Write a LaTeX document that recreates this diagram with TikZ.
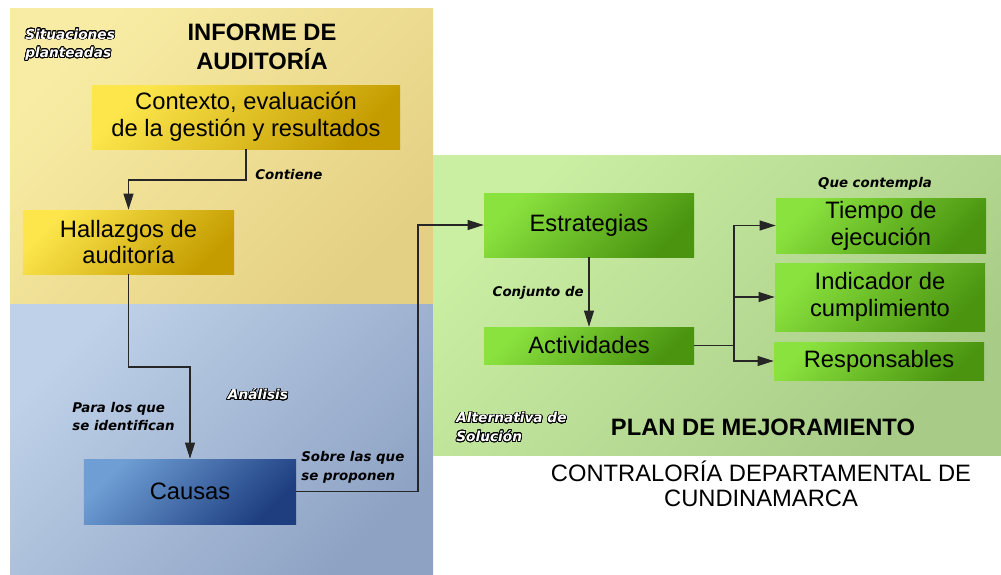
\documentclass[tikz,border=0pt]{standalone}
\usepackage{fontspec}
\setmainfont{Liberation Sans}
\newfontfamily\dejavu{DejaVu Sans}
\usepackage{contour}
\contourlength{0.45pt}
\contournumber{20}
\usetikzlibrary{arrows.meta}

\definecolor{yelpanA}{HTML}{F8ECA4}
\definecolor{yelpanB}{HTML}{E4D084}
\definecolor{blupanA}{HTML}{BED1E8}
\definecolor{blupanB}{HTML}{8EA2C4}
\definecolor{grepanA}{HTML}{CAEEA2}
\definecolor{grepanB}{HTML}{A8CC88}
\definecolor{yelboxA}{HTML}{FCE64C}
\definecolor{yelboxB}{HTML}{C49C00}
\definecolor{greboxA}{HTML}{8AE23E}
\definecolor{greboxB}{HTML}{4A9410}
\definecolor{bluboxA}{HTML}{6E9ED4}
\definecolor{bluboxB}{HTML}{1E3E80}

\begin{document}
\begin{tikzpicture}[x=0.2mm, y=-0.2mm,
		yelbox/.style={top color=yelboxA, bottom color=yelboxB, shading angle=45, align=center, inner sep=0pt, font=\fontsize{13.5}{15.3}\selectfont},
		grebox/.style={top color=greboxA, bottom color=greboxB, shading angle=45, align=center, inner sep=0pt, font=\fontsize{13.5}{15.3}\selectfont},
		blubox/.style={top color=bluboxA, bottom color=bluboxB, shading angle=45, align=center, inner sep=0pt, font=\fontsize{13.5}{15.3}\selectfont},
		title/.style={align=center, inner sep=0pt, font=\fontsize{13.5}{16.4}\selectfont\bfseries},
		rel/.style={align=left, inner sep=0pt, font=\dejavu\fontsize{7.6}{10.5}\selectfont\bfseries\itshape},
		tag/.style={align=left, inner sep=0pt, text=white, font=\dejavu\fontsize{7.8}{10.5}\selectfont\bfseries\itshape},
		conn/.style={draw=black!85, line width=0.6pt},
		arr/.style={conn, -{Triangle[length=3.2mm, width=2mm]}}]
		% Bounding box
		\useasboundingbox (0,0) rectangle (1001,575);
		
		% Panels
		\shade[top color=yelpanA, bottom color=yelpanB, shading angle=45] (10,8) rectangle (433,304);
		\shade[top color=blupanA, bottom color=blupanB, shading angle=45] (10,304) rectangle (433,575);
		\shade[top color=grepanA, bottom color=grepanB, shading angle=45] (433,155) rectangle (1001,455);
		
		% Titles
		\node[title] (informe) at (262,47) {INFORME DE\\AUDITORÍA};
		\node[title] (plan) at (763,427) {PLAN DE MEJORAMIENTO};
		\node[title, font=\fontsize{13.5}{14.5}\selectfont] (contraloria) at (761,484) {CONTRALORÍA DEPARTAMENTAL DE\\CUNDINAMARCA};
		
		% Boxes
		\node[yelbox, minimum width=61.6mm, minimum height=12.8mm] (ctx) at (246,117) {Contexto, evaluación\\de la gestión y resultados};
		\node[yelbox, minimum width=42.2mm, minimum height=12.8mm] (hal) at (128.5,242) {Hallazgos de\\auditoría};
		\node[blubox, minimum width=42.4mm, minimum height=13mm] (cau) at (190,491.5) {Causas};
		\node[grebox, minimum width=42mm, minimum height=12.8mm] (est) at (589,225) {Estrategias};
		\node[grebox, minimum width=42mm, minimum height=7.4mm] (act) at (589,345.5) {Actividades};
		\node[grebox, minimum width=42mm, minimum height=11mm] (tie) at (881,225.5) {Tiempo de\\ejecución};
		\node[grebox, minimum width=42mm, minimum height=13.6mm] (ind) at (880,297) {Indicador de\\cumplimiento};
		\node[grebox, minimum width=42mm, minimum height=7.6mm] (res) at (879,361) {Responsables};
		
		% Connectors
		\coordinate (rise) at (418,225);
		\coordinate (fork) at (734,345.5);
		\draw[arr] (ctx.south) -- (ctx.south |- 0,180) -| (hal.north);
		\draw[arr] (hal.south) -- (hal.south |- 0,367) -| (cau.north);
		\draw[arr] (cau.east) -| (rise) -- (est.west);
		\draw[arr] (est.south) -- (act.north);
		\draw[conn] (act.east) -- (fork);
		\draw[arr] (fork) |- (tie.west);
		\draw[arr] (fork) |- (ind.west);
		\draw[arr] (fork) |- (res.west);
		
		% Relation labels
		\node[rel, anchor=west] (contiene) at (255,175) {Contiene};
		\node[rel, anchor=west] (paralos) at (72,416.5) {Para los que\\se identifican};
		\node[rel, anchor=west] (sobre) at (301,467.5) {Sobre las que\\se proponen};
		\node[rel, anchor=east] (conjunto) at (584,293) {Conjunto de};
		\node[rel] (contempla) at (875,184) {Que contempla};
		
		% Outlined tags
		\node[tag, anchor=west] (situaciones) at (25,45) {\contour{black}{Situaciones}\\\contour{black}{planteadas}};
		\node[tag] (analisis) at (258,395) {\contour{black}{Análisis}};
		\node[tag, anchor=west] (alternativa) at (456,427.5) {\contour{black}{Alternativa de}\\\contour{black}{Solución}};
	\end{tikzpicture}
\end{document}
